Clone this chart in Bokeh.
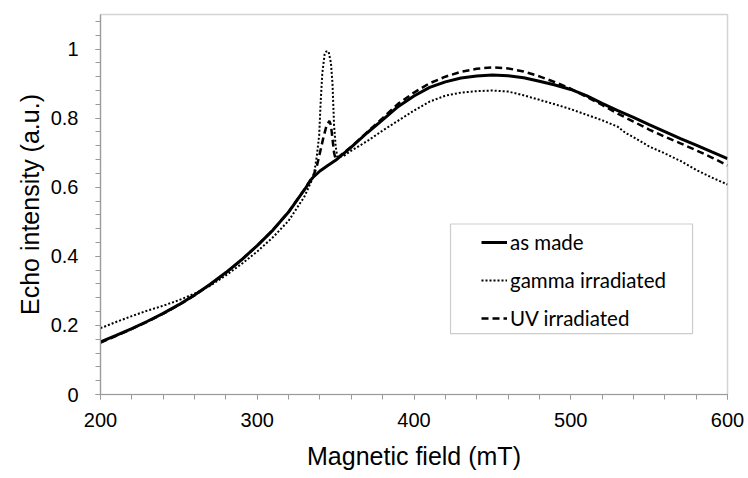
from bokeh.plotting import figure
from bokeh.models import (Range1d, SingleIntervalTicker, CustomJSTickFormatter,
                          Legend, LegendItem, BoxAnnotation)
from bokeh.embed import file_html
from bokeh.resources import INLINE

# ---- data ----
field_made = [200, 210, 220, 230, 240, 250, 260, 270, 280, 290, 300, 310, 320, 330,
              335, 340, 345, 350, 360, 370, 380, 390, 400, 410, 420, 430, 440, 450,
              460, 470, 480, 490, 500, 510, 520, 530, 540, 550, 560, 570, 580, 590, 600]
echo_made = [0.152, 0.171, 0.191, 0.212, 0.235, 0.260, 0.288, 0.319, 0.353, 0.390,
             0.431, 0.476, 0.528, 0.592, 0.626, 0.647, 0.663, 0.678, 0.716, 0.757,
             0.795, 0.834, 0.864, 0.889, 0.905, 0.916, 0.922, 0.925, 0.923, 0.917,
             0.907, 0.896, 0.883, 0.865, 0.843, 0.822, 0.802, 0.781, 0.761, 0.741,
             0.722, 0.702, 0.683]

field_gamma = [200, 210, 220, 230, 240, 250, 260, 270, 280, 290, 300, 310, 320, 330,
               336, 338, 339.5, 340.5, 341.5, 343, 344, 345.5, 347, 348, 349, 350,
               351, 355, 360, 370, 380, 390, 400, 410, 420, 430, 440, 450, 460, 470,
               480, 490, 500, 510, 520, 530, 535, 540, 550, 560, 570, 580, 590, 600]
echo_gamma = [0.192, 0.210, 0.227, 0.243, 0.257, 0.273, 0.292, 0.315, 0.345, 0.378,
              0.414, 0.455, 0.503, 0.572, 0.632, 0.690, 0.750, 0.850, 0.930, 0.985,
              0.993, 0.993, 0.960, 0.900, 0.780, 0.720, 0.688, 0.690, 0.706, 0.733,
              0.764, 0.793, 0.822, 0.848, 0.865, 0.874, 0.878, 0.880, 0.877, 0.866,
              0.853, 0.840, 0.826, 0.810, 0.794, 0.775, 0.757, 0.745, 0.718, 0.698,
              0.676, 0.650, 0.628, 0.608]

field_uv = [200, 210, 220, 230, 240, 250, 260, 270, 280, 290, 300, 310, 320, 330,
            336, 338, 340, 342, 344, 346, 347, 348, 349, 350, 360, 370, 380, 390,
            400, 410, 420, 430, 440, 450, 460, 470, 480, 490, 500, 510, 520, 530,
            540, 550, 560, 570, 580, 590, 600]
echo_uv = [0.150, 0.170, 0.190, 0.211, 0.234, 0.259, 0.287, 0.318, 0.352, 0.390,
           0.431, 0.476, 0.529, 0.593, 0.636, 0.660, 0.700, 0.740, 0.775, 0.792,
           0.780, 0.740, 0.700, 0.681, 0.717, 0.759, 0.800, 0.842, 0.874, 0.901,
           0.920, 0.934, 0.943, 0.947, 0.944, 0.935, 0.921, 0.904, 0.885, 0.862,
           0.838, 0.813, 0.790, 0.767, 0.746, 0.727, 0.707, 0.686, 0.663]

series_names = ["as made", "gamma irradiated", "UV irradiated"]
x_label = "Magnetic field (mT)"
y_label = "Echo intensity (a.u.)"

# ---- figure ----
p = figure(width=745, height=475, output_backend="svg", toolbar_location=None,
           x_range=Range1d(200, 600), y_range=Range1d(0, 1.1),
           min_border_left=100, min_border_right=18, min_border_top=14,
           min_border_bottom=81)
p.grid.visible = False
p.outline_line_color = "#d4d4d4"
p.outline_line_width = 1.5
p.background_fill_color = "white"
p.border_fill_color = "white"

r_made = p.line(field_made, echo_made, line_color="black", line_width=3)
r_gamma = p.line(field_gamma, echo_gamma, line_color="black", line_width=2,
                 line_dash="2 2")
r_uv = p.line(field_uv, echo_uv, line_color="black", line_width=2.5,
              line_dash="7 4")

for ax in (p.xaxis[0], p.yaxis[0]):
    ax.axis_line_color = "#9a9a9a"
    ax.axis_line_width = 1.2
    ax.major_tick_line_color = "#9a9a9a"
    ax.minor_tick_line_color = "#9a9a9a"
    ax.major_tick_in = 0
    ax.minor_tick_in = 0
    ax.major_tick_out = 5
    ax.minor_tick_out = 5
    ax.major_label_text_font = "Liberation Sans"
    ax.major_label_text_font_size = "20px"
    ax.major_label_text_color = "black"
    ax.axis_label_text_font = "Liberation Sans"
    ax.axis_label_text_font_size = "25px"
    ax.axis_label_text_font_style = "normal"
    ax.axis_label_text_color = "black"

p.xaxis.ticker = SingleIntervalTicker(interval=100, num_minor_ticks=5)
p.yaxis.ticker = SingleIntervalTicker(interval=0.2, num_minor_ticks=5)
p.yaxis.formatter = CustomJSTickFormatter(
    code="var s = tick.toFixed(1); return s.endsWith('.0') ? s.slice(0, -2) : s;")
p.xaxis.axis_label = x_label
p.yaxis.axis_label = y_label
p.xaxis.major_label_standoff = 13
p.xaxis.axis_label_standoff = 12
p.yaxis.major_label_standoff = 17
p.yaxis.axis_label_standoff = 4

# legend frame
box = BoxAnnotation(left=423.3, right=577.7, bottom=0.176, top=0.4935,
                    fill_color="white", fill_alpha=1.0,
                    line_color="#595959", line_width=1.2, level="overlay")
p.add_layout(box)

legend = Legend(items=[LegendItem(label=series_names[0], renderers=[r_made]),
                       LegendItem(label=series_names[1], renderers=[r_gamma]),
                       LegendItem(label=series_names[2], renderers=[r_uv])],
                location=(381, 64), border_line_alpha=0, background_fill_alpha=0,
                padding=0, margin=0, spacing=14, glyph_width=26, glyph_height=20,
                label_height=20, label_standoff=3, label_text_font="Lato",
                label_text_font_size="20.5px", label_text_color="black")
p.add_layout(legend)

open("out.html", "w").write(file_html(p, INLINE))
